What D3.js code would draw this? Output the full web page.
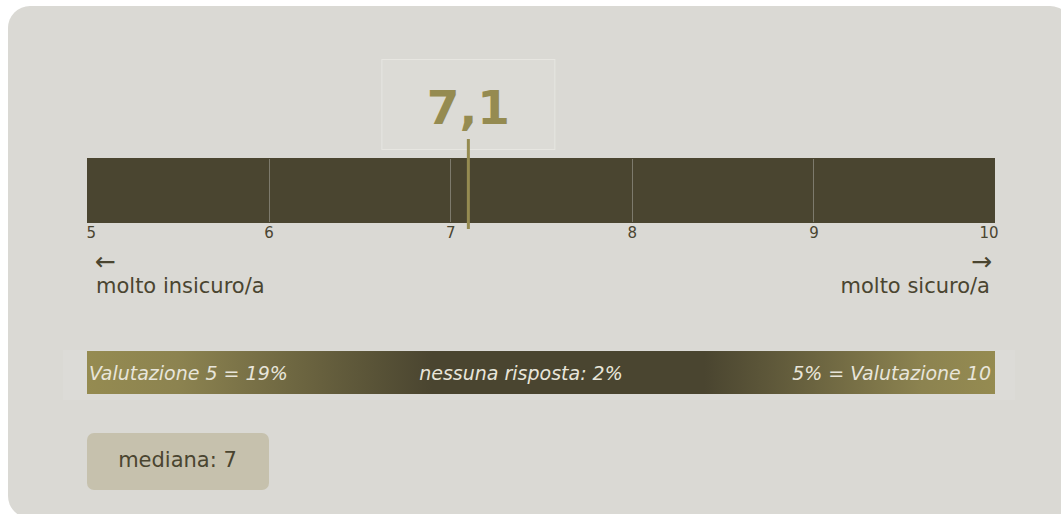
<!DOCTYPE html>
<html><head><meta charset="utf-8">
<script src="https://cdn.jsdelivr.net/npm/d3@7"></script>
<style>
html,body{margin:0;padding:0;background:#ffffff;}
svg{display:block;font-family:"DejaVu Sans",Verdana,sans-serif;}
</style></head>
<body>
<svg id="chart" width="1061" height="514"></svg>
<script>
// ---- data ----
const scaleTicks = [5, 6, 7, 8, 9, 10];
const scaleDomain = [5, 10];
const meanValue = 7.1;
const medianValue = 7;
const endLabels = ["molto insicuro/a", "molto sicuro/a"];
const shareValues = [19, 2, 5]; // rating 5, no answer, rating 10
const shareNames = ["Valutazione 5", "nessuna risposta", "Valutazione 10"];

const fmt = v => String(v).replace(".", ",");

const svg = d3.select("#chart");

// panel
svg.append("rect").attr("x", 8).attr("y", 6).attr("width", 1064).attr("height", 512)
  .attr("rx", 22).attr("fill", "#dad9d4");

const x = d3.scaleLinear().domain(scaleDomain).range([87, 995]);

const dark = "#4a4530", gold = "#958b51", textDark = "#4a4530";

// value box
const boxW = 173, boxH = 90;
svg.append("rect").attr("x", x(meanValue) - boxW / 2).attr("y", 59.5)
  .attr("width", boxW).attr("height", boxH)
  .attr("fill", "#dcdbd6").attr("stroke", "#e7e6e1").attr("stroke-width", 1);
svg.append("text").attr("x", x(meanValue)).attr("y", 123.5)
  .attr("text-anchor", "middle").attr("font-weight", "bold").attr("font-size", 47)
  .attr("fill", gold).text(fmt(meanValue));

// main bar
svg.append("rect").attr("x", x(scaleDomain[0])).attr("y", 158)
  .attr("width", x(scaleDomain[1]) - x(scaleDomain[0])).attr("height", 65).attr("fill", dark);

// grid lines
svg.selectAll("line.grid").data(scaleTicks.slice(1, -1)).enter().append("line")
  .attr("class", "grid")
  .attr("x1", d => Math.round(x(d)) + 0.5).attr("x2", d => Math.round(x(d)) + 0.5)
  .attr("y1", 159).attr("y2", 222).attr("stroke", "#7d7a6c").attr("stroke-width", 1);

// axis labels
const axis = d3.axisBottom(x).tickValues(scaleTicks).tickFormat(d3.format("d"))
  .tickSize(0).tickPadding(0);
const ag = svg.append("g").attr("transform", "translate(0,227)").call(axis);
ag.attr("font-family", null).attr("font-size", null);
ag.select(".domain").remove();
ag.selectAll("text").attr("font-size", 15).attr("fill", textDark)
  .attr("dy", "0.71em")
  .attr("text-anchor", (d, i) => i === 0 ? "start" : (i === scaleTicks.length - 1 ? "end" : "middle"))
  .attr("dx", (d, i) => i === 0 ? -1 : (i === scaleTicks.length - 1 ? 3 : 0));

// mean marker
svg.append("line").attr("x1", x(meanValue)).attr("x2", x(meanValue))
  .attr("y1", 139).attr("y2", 229).attr("stroke", gold).attr("stroke-width", 3);

// end labels
svg.append("text").attr("x", 95).attr("y", 270).attr("font-size", 25).attr("fill", textDark).text("\u2190");
svg.append("text").attr("x", 96).attr("y", 293).attr("font-size", 21).attr("fill", textDark).text(endLabels[0]);
svg.append("text").attr("x", 992).attr("y", 270).attr("font-size", 25).attr("fill", textDark)
  .attr("text-anchor", "end").text("\u2192");
svg.append("text").attr("x", 990).attr("y", 293).attr("font-size", 21).attr("fill", textDark)
  .attr("text-anchor", "end").text(endLabels[1]);

// gradient strip
const defs = svg.append("defs");
const grad = defs.append("linearGradient").attr("id", "g1").attr("x1", "0%").attr("x2", "100%");
[[0, gold], [0.1, "#8c8350"], [0.38, dark], [0.68, dark], [0.92, "#8c8350"], [1, gold]].forEach(s =>
  grad.append("stop").attr("offset", s[0]).attr("stop-color", s[1]));

svg.append("rect").attr("x", 63).attr("y", 350).attr("width", 952).attr("height", 50)
  .attr("fill", "#dcdbd7");
svg.append("rect").attr("x", x(scaleDomain[0])).attr("y", 351)
  .attr("width", x(scaleDomain[1]) - x(scaleDomain[0])).attr("height", 43).attr("fill", "url(#g1)");

const shareLabels = [
  `${shareNames[0]} = ${shareValues[0]}%`,
  `${shareNames[1]}: ${shareValues[1]}%`,
  `${shareValues[2]}% = ${shareNames[2]}`
];
const sx = [x(scaleDomain[0]) + 2, 521, x(scaleDomain[1]) - 4];
const sa = ["start", "middle", "end"];
svg.selectAll("text.share").data(shareLabels).enter().append("text")
  .attr("class", "share")
  .attr("x", (d, i) => sx[i]).attr("y", 380)
  .attr("text-anchor", (d, i) => sa[i])
  .attr("font-size", 19).attr("font-style", "italic").attr("fill", "#e8e5da")
  .text(d => d);

// median box
svg.append("rect").attr("x", 87).attr("y", 433).attr("width", 182).attr("height", 57)
  .attr("rx", 7).attr("fill", "#c6c1ad");
svg.append("text").attr("x", 177.5).attr("y", 467).attr("text-anchor", "middle")
  .attr("font-size", 21).attr("fill", textDark).text(`mediana: ${fmt(medianValue)}`);
</script>
</body></html>
